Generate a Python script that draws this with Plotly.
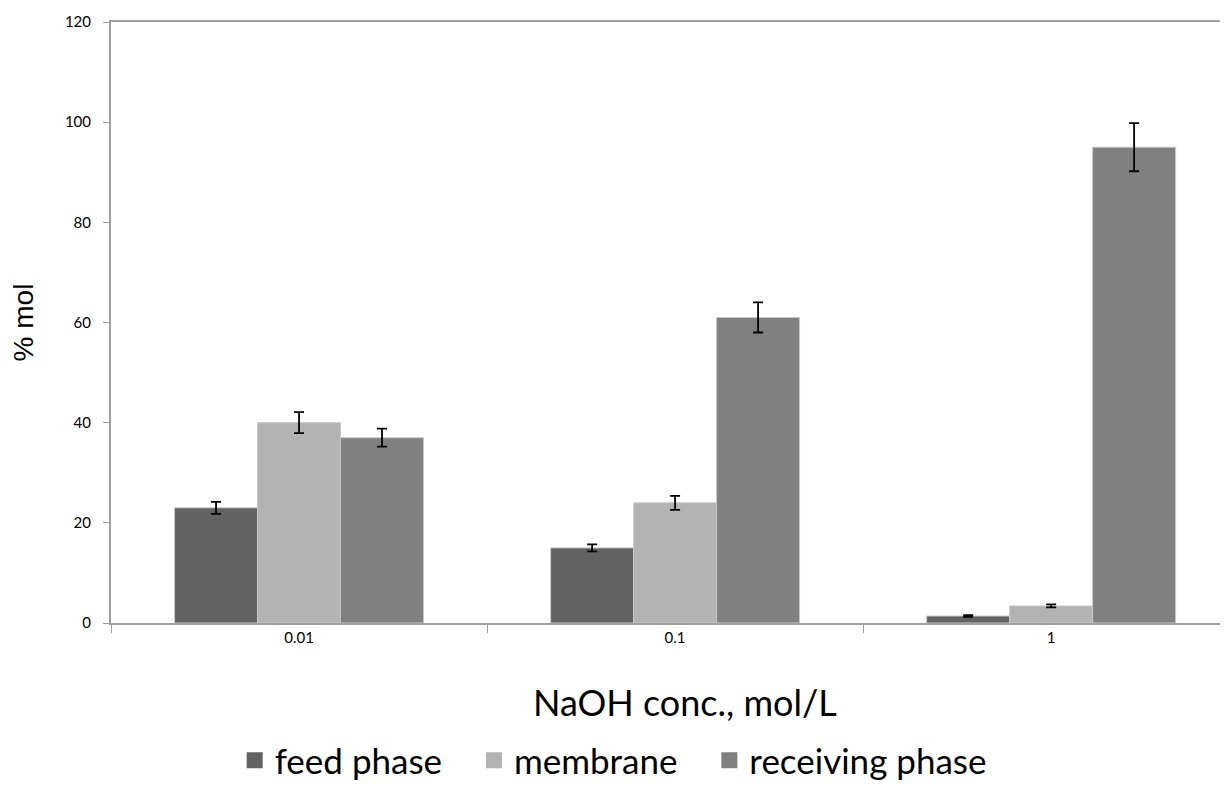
import plotly.graph_objects as go

categories = ["0.01", "0.1", "1"]
feed = [23, 15, 1.4]
feed_err = [1.2, 0.7, 0.15]
membrane = [40, 24, 3.4]
membrane_err = [2.1, 1.4, 0.3]
receiving = [37, 61, 95]
receiving_err = [1.8, 3.0, 4.8]

series = [
    ("feed phase", feed, feed_err, "#636363"),
    ("membrane", membrane, membrane_err, "#b3b3b3"),
    ("receiving phase", receiving, receiving_err, "#808080"),
]

fig = go.Figure()
for name, vals, errs, col in series:
    fig.add_trace(go.Bar(
        x=categories, y=vals, name=name, showlegend=False,
        marker=dict(color=col, line=dict(color="#c8c8c8", width=1)),
        error_y=dict(type="data", array=errs, visible=True, color="black",
                     thickness=1.8, width=5),
    ))
# legend entries with larger square swatches
for name, vals, errs, col in series:
    fig.add_trace(go.Scatter(
        x=[None], y=[None], mode="markers", name=name + "\u00a0" * 3,
        marker=dict(symbol="square", size=19, color=col),
    ))

fig.update_layout(
    width=1212, height=779,
    paper_bgcolor="white", plot_bgcolor="white",
    margin=dict(l=103, r=0, t=14, b=164),
    barmode="group", bargap=0.338, bargroupgap=0,
    font=dict(family="Lato, Open Sans, sans-serif", color="black"),
    legend=dict(orientation="h", xref="paper", x=0.465, xanchor="center",
                yref="container", y=0.034, yanchor="middle",
                font=dict(size=35, family="Lato, sans-serif"), itemwidth=30,
                traceorder="normal"),
    showlegend=True,
    annotations=[dict(text="NaOH conc., mol/L", xref="paper", yref="paper",
                      x=0.5176, y=-0.1314, xanchor="center", yanchor="middle",
                      showarrow=False, font=dict(size=36, family="Lato, sans-serif"))],
)
fig.update_xaxes(
    type="category", range=[-0.5, 2.449], automargin=False,
    showline=True, linecolor="#a0a0a0", linewidth=2, mirror=True,
    ticks="outside", tickson="boundaries", ticklen=8, tickcolor="#a0a0a0",
    tickfont=dict(size=15, family="Lato, sans-serif"),
    showgrid=False,
)
fig.update_yaxes(
    range=[0, 120], dtick=20, automargin=False, mirror=False,
    showline=True, linecolor="#a0a0a0", linewidth=2,
    ticks="outside", ticklen=6, tickcolor="#a0a0a0", ticklabelstandoff=9,
    tickfont=dict(size=15, family="Lato, sans-serif"),
    title=dict(text="% mol", font=dict(size=28, family="Liberation Sans, sans-serif"), standoff=32),
    showgrid=False, zeroline=False,
)

fig.write_html("out.html")
